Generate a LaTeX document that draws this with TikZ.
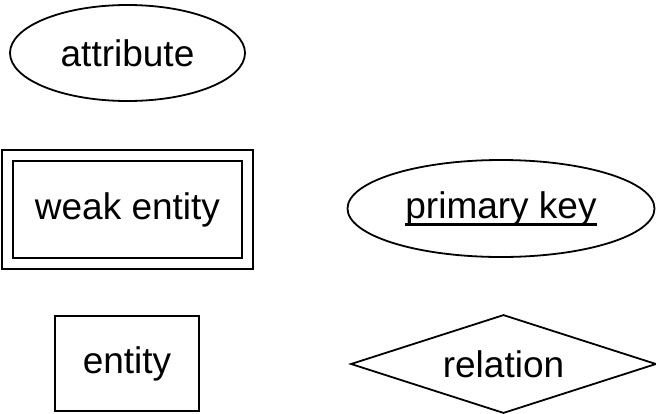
\documentclass[tikz,border=0pt]{standalone}
\usepackage{fontspec}
\setmainfont{Liberation Sans}
\usetikzlibrary{shapes.geometric}
% thick underline for key attributes
\newcommand\keyul[1]{\setbox0\hbox{#1}\rlap{\rule[-7.5pt]{\wd0}{3pt}}\box0}
\tikzset{
  er/.style={draw, line width=1.8pt, font=\fontsize{37}{41}\selectfont, inner sep=0pt},
  attrshape/.style={er, ellipse},
  entshape/.style={er, rectangle},
}
\begin{document}
\begin{tikzpicture}[x=1pt,y=-1pt]
  \useasboundingbox (0,0) rectangle (656,413);
  % attribute
  \node[attrshape, minimum width=235pt, minimum height=96pt] (attr) at (127.5,53) {attribute};
  % weak entity (double border)
  \node[entshape, double, double distance=9.2pt, minimum width=240pt, minimum height=108pt] (weak) at (127.5,209.5) {weak entity};
  % primary key
  \node[attrshape, minimum width=307pt, minimum height=97pt] (pk) at (501,208.5) {\keyul{primary key}};
  % entity
  \node[entshape, minimum width=144pt, minimum height=95pt] (ent) at (127,363.5) {entity};
  % relation (diamond)
  \node[er, draw=none, minimum width=303pt, minimum height=96pt] (rel) at (503.5,364) {relation};
  \draw[line width=1.8pt, line join=miter] (rel.north) -- (rel.east) -- (rel.south) -- (rel.west) -- cycle;
\end{tikzpicture}
\end{document}
